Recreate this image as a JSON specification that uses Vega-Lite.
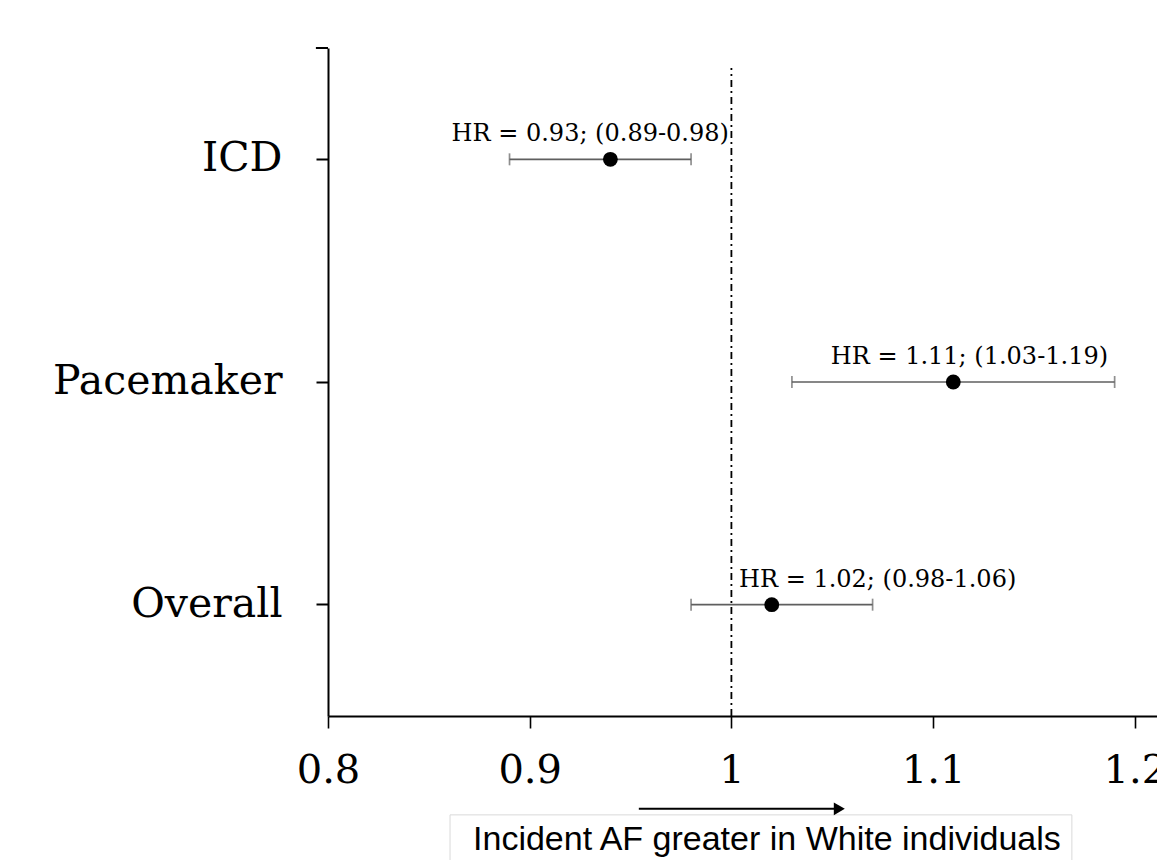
{
  "$schema": "https://vega.github.io/schema/vega-lite/v6.json",
  "width": 829,
  "height": 668,
  "autosize": {"type": "none"},
  "padding": {"left": 328, "top": 48, "right": 0, "bottom": 144},
  "background": "white",
  "config": {
    "view": {"stroke": null},
    "axisX": {"domainColor": "black", "domainWidth": 2, "tickColor": "black", "tickWidth": 1.6, "tickSize": 12, "labelFont": "DejaVu Serif", "labelFontSize": 40, "labelColor": "black", "labelPadding": 22, "grid": false, "labelFlush": false, "labelOverlap": false, "labelBound": false},
    "axisY": {"domainColor": "black", "domainWidth": 2, "tickColor": "black", "tickWidth": 2, "tickSize": 12, "labelFont": "DejaVu Serif", "labelFontSize": 41, "labelColor": "black", "labelPadding": 34, "labelLimit": 500, "grid": false}
  },
  "layer": [
    {
      "data": {"values": [
        {"device": "ICD", "hr": 0.94, "lo": 0.89, "hi": 0.98, "label": "HR = 0.93; (0.89-0.98)", "label_at": 0.93},
        {"device": "Pacemaker", "hr": 1.11, "lo": 1.03, "hi": 1.19, "label": "HR = 1.11; (1.03-1.19)", "label_at": 1.118},
        {"device": "Overall", "hr": 1.02, "lo": 0.98, "hi": 1.07, "label": "HR = 1.02; (0.98-1.06)", "label_at": 1.0725}
      ]},
      "encoding": {
        "y": {"field": "device", "type": "nominal", "scale": {"type": "band", "domain": ["ICD", "Pacemaker", "Overall"], "paddingInner": 0, "paddingOuter": 0}, "axis": {"title": null}}
      },
      "layer": [
        {"mark": {"type": "rule", "color": "#5f5f5f", "strokeWidth": 1.7},
         "encoding": {"x": {"field": "lo", "type": "quantitative", "scale": {"domain": [0.8, 1.211], "nice": false, "zero": false}, "axis": {"title": null, "values": [0.8, 0.9, 1, 1.1, 1.2], "format": ".1~f"}}, "x2": {"field": "hi"}}},
        {"mark": {"type": "tick", "color": "#5f5f5f", "thickness": 1.7, "size": 12},
         "encoding": {"x": {"field": "lo", "type": "quantitative", "title": null, "scale": {"domain": [0.8, 1.211], "nice": false, "zero": false}}}},
        {"mark": {"type": "tick", "color": "#5f5f5f", "thickness": 1.7, "size": 12},
         "encoding": {"x": {"field": "hi", "type": "quantitative", "title": null, "scale": {"domain": [0.8, 1.211], "nice": false, "zero": false}}}},
        {"mark": {"type": "circle", "color": "black", "opacity": 1, "size": 220},
         "encoding": {"x": {"field": "hr", "type": "quantitative", "title": null, "scale": {"domain": [0.8, 1.211], "nice": false, "zero": false}}}},
        {"mark": {"type": "text", "font": "DejaVu Serif", "fontSize": 24, "color": "black", "dy": -18, "baseline": "alphabetic", "align": "center"},
         "encoding": {"x": {"field": "label_at", "type": "quantitative", "title": null, "scale": {"domain": [0.8, 1.211], "nice": false, "zero": false}}, "text": {"field": "label"}}}
      ]
    },
    {
      "data": {"values": [{}]},
      "layer": [
        {"mark": {"type": "rule", "color": "black", "strokeWidth": 1.8, "strokeDash": [7, 4, 2, 4]},
         "encoding": {"x": {"datum": 1, "type": "quantitative", "scale": {"domain": [0.8, 1.211], "nice": false, "zero": false}}, "y": {"datum": 0, "type": "quantitative", "scale": {"domain": [0, 1], "nice": false, "zero": false}, "axis": null}, "y2": {"datum": 0.97}}},
        {"mark": {"type": "rule", "color": "black", "strokeWidth": 2},
         "encoding": {"x": {"datum": 0.794, "type": "quantitative", "scale": {"domain": [0.8, 1.211], "nice": false, "zero": false}}, "x2": {"datum": 0.8}, "y": {"datum": 1, "type": "quantitative", "scale": {"domain": [0, 1], "nice": false, "zero": false}, "axis": null}}},
        {"mark": {"type": "rect", "fill": "white", "stroke": "#d9d9d9", "strokeWidth": 1},
         "encoding": {"x": {"datum": 0.8605, "type": "quantitative", "scale": {"domain": [0.8, 1.211], "nice": false, "zero": false}}, "x2": {"datum": 1.1688}, "y": {"datum": -0.148, "type": "quantitative", "scale": {"domain": [0, 1], "nice": false, "zero": false}, "axis": null}, "y2": {"datum": -0.3}}},
        {"mark": {"type": "rule", "color": "black", "strokeWidth": 2},
         "encoding": {"x": {"datum": 0.9541, "type": "quantitative", "scale": {"domain": [0.8, 1.211], "nice": false, "zero": false}}, "x2": {"datum": 1.051}, "y": {"datum": -0.139, "type": "quantitative", "scale": {"domain": [0, 1], "nice": false, "zero": false}, "axis": null}}},
        {"mark": {"type": "point", "shape": "triangle-right", "filled": true, "color": "black", "opacity": 1, "size": 160},
         "encoding": {"x": {"datum": 1.0535, "type": "quantitative", "scale": {"domain": [0.8, 1.211], "nice": false, "zero": false}}, "y": {"datum": -0.139, "type": "quantitative", "scale": {"domain": [0, 1], "nice": false, "zero": false}, "axis": null}}},
        {"mark": {"type": "text", "text": "Incident AF greater in White individuals", "font": "Liberation Sans", "fontSize": 34, "color": "black", "align": "left", "baseline": "alphabetic"},
         "encoding": {"x": {"datum": 0.8719, "type": "quantitative", "scale": {"domain": [0.8, 1.211], "nice": false, "zero": false}}, "y": {"datum": -0.2006, "type": "quantitative", "scale": {"domain": [0, 1], "nice": false, "zero": false}, "axis": null}}}
      ]
    }
  ],
  "resolve": {"scale": {"y": "independent"}}
}
